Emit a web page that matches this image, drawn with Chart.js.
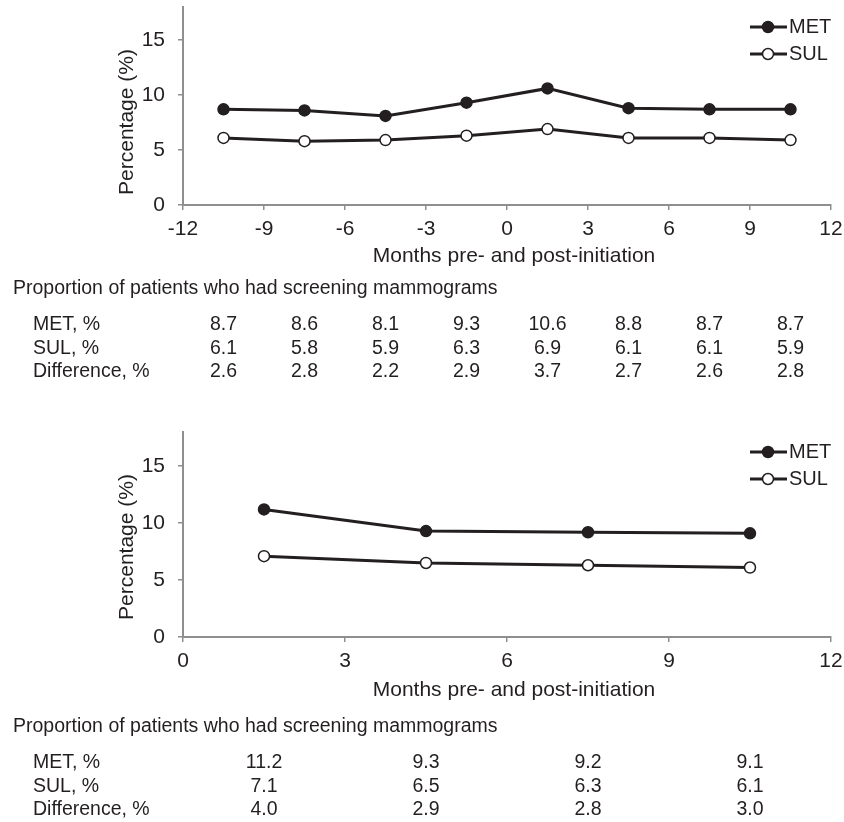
<!DOCTYPE html>
<html>
<head>
<meta charset="utf-8">
<script src="https://cdn.jsdelivr.net/npm/chart.js@4.4.1/dist/chart.umd.min.js"></script>
<style>
body { margin: 0; background: #fff; }
canvas { position: absolute; left: 0; }
#chartPre { top: 0; }
#chartPost { top: 410px; }
</style>
</head>
<body>
<canvas id="chartPre" width="844" height="410"></canvas>
<canvas id="chartPost" width="844" height="412"></canvas>
<script>
// top panel: 12 months pre and post initiation
var monthsPre = [-10.5, -7.5, -4.5, -1.5, 1.5, 4.5, 7.5, 10.5];
var metPre = [8.7, 8.6, 8.1, 9.3, 10.6, 8.8, 8.7, 8.7];
var sulPre = [6.1, 5.8, 5.9, 6.3, 6.9, 6.1, 6.1, 5.9];
var diffPre = [2.6, 2.8, 2.2, 2.9, 3.7, 2.7, 2.6, 2.8];

// bottom panel: post initiation only
var monthsPost = [1.5, 4.5, 7.5, 10.5];
var metPost = [11.2, 9.3, 9.2, 9.1];
var sulPost = [7.1, 6.5, 6.3, 6.1];
var diffPost = [4.0, 2.9, 2.8, 3.0];

var seriesNames = ['MET', 'SUL'];
var yTitle = 'Percentage (%)';
var xTitle = 'Months pre- and post-initiation';
var tableTitle = 'Proportion of patients who had screening mammograms';
var diffName = 'Difference';

var INK = '#231f20';
var AXIS = '#8f8f8f';
var FONT = "'Liberation Sans', Arial, sans-serif";

/**
 * Draws the axis titles, the legend and the value table under the chart.
 */
var extrasPlugin = {
    id: 'extras',
    afterDraw: function(chart) {
        var o = chart.options.plugins.extras;
        var ctx = chart.ctx;
        var area = chart.chartArea;
        var xs = chart.scales.x;
        ctx.save();
        ctx.textBaseline = 'middle';
        ctx.fillStyle = INK;

        ctx.font = '21px ' + FONT;
        ctx.textAlign = 'center';
        ctx.fillText(xTitle, area.left + 331, area.bottom + o.xTitleGap);

        ctx.save();
        ctx.translate(127, area.top + 115);
        ctx.rotate(-Math.PI / 2);
        ctx.fillText(yTitle, 0, 0);
        ctx.restore();

        ctx.font = '20px ' + FONT;
        chart.data.datasets.forEach(function(ds, i) {
            var y = area.top + o.legendTop + 27 * i;
            ctx.strokeStyle = INK;
            ctx.lineWidth = 3;
            ctx.beginPath();
            ctx.moveTo(area.right - 81, y);
            ctx.lineTo(area.right - 44, y);
            ctx.stroke();
            ctx.beginPath();
            ctx.arc(area.right - 63, y, 5.5, 0, 2 * Math.PI);
            ctx.fillStyle = ds.pointBackgroundColor;
            ctx.fill();
            ctx.lineWidth = 1.5;
            ctx.stroke();
            ctx.fillStyle = INK;
            ctx.textAlign = 'left';
            ctx.fillText(ds.label, area.right - 42, y);
        });

        ctx.font = '19.5px ' + FONT;
        var top = area.bottom + o.tableTop;
        ctx.textAlign = 'left';
        ctx.fillText(tableTitle, 13, top);
        var rows = [
            [seriesNames[0] + ', %', o.met],
            [seriesNames[1] + ', %', o.sul],
            [diffName + ', %', o.diff]
        ];
        var rowY = [36, 60, 83];
        rows.forEach(function(r, k) {
            var y = top + rowY[k];
            ctx.textAlign = 'left';
            ctx.fillText(r[0], 33, y);
            ctx.textAlign = 'center';
            r[1].forEach(function(v, i) {
                ctx.fillText(v.toFixed(1), xs.getPixelForValue(o.months[i]), y);
            });
        });
        ctx.restore();
    }
};

function noPad(s) {
    s.paddingTop = 0;
    s.paddingBottom = 0;
    s.paddingLeft = 0;
    s.paddingRight = 0;
}

function makeChart(id, months, met, sul, diff, xMin, pad, xHeight, tableTop, xTitleGap) {
    return new Chart(document.getElementById(id).getContext('2d'), {
        type: 'line',
        data: {
            datasets: [{
                label: seriesNames[0],
                data: months.map(function(m, i) { return {x: m, y: met[i]}; }),
                borderColor: INK,
                borderWidth: 3,
                pointRadius: 5.5,
                pointBorderWidth: 1.5,
                pointBackgroundColor: INK,
                pointBorderColor: INK
            }, {
                label: seriesNames[1],
                data: months.map(function(m, i) { return {x: m, y: sul[i]}; }),
                borderColor: INK,
                borderWidth: 3,
                pointRadius: 5.5,
                pointBorderWidth: 1.5,
                pointBackgroundColor: '#ffffff',
                pointBorderColor: INK
            }]
        },
        options: {
            responsive: false,
            animation: false,
            events: [],
            layout: { padding: pad, autoPadding: false },
            plugins: {
                legend: { display: false },
                tooltip: { enabled: false },
                extras: { months: months, met: met, sul: sul, diff: diff, tableTop: tableTop, legendTop: 20, xTitleGap: xTitleGap }
            },
            scales: {
                x: {
                    type: 'linear',
                    min: xMin,
                    max: 12,
                    afterFit: function(s) { s.height = xHeight; noPad(s); },
                    ticks: { stepSize: 3, color: INK, padding: 7, font: { family: FONT, size: 21 } },
                    grid: { drawOnChartArea: false, color: AXIS, lineWidth: 1.5, tickLength: 5 },
                    border: { color: AXIS, width: 2 }
                },
                y: {
                    min: 0,
                    max: 18,
                    afterFit: function(s) { s.width = 183; noPad(s); },
                    afterBuildTicks: function(s) {
                        s.ticks = s.ticks.filter(function(t) { return t.value % 5 === 0; });
                    },
                    ticks: { stepSize: 5, color: INK, padding: 13, font: { family: FONT, size: 21 } },
                    grid: { drawOnChartArea: false, color: AXIS, lineWidth: 1.5, tickLength: 5 },
                    border: { color: AXIS, width: 2 }
                }
            }
        },
        plugins: [extrasPlugin]
    });
}

makeChart('chartPre', monthsPre, metPre, sulPre, diffPre, -12,
    { top: 7, right: 13, bottom: 410 - 205 - 64, left: 0 }, 64, 84, 51);
makeChart('chartPost', monthsPost, metPost, sulPost, diffPost, 0,
    { top: 22, right: 13, bottom: 412 - 227 - 64, left: 0 }, 64, 90, 53);
</script>
</body>
</html>
